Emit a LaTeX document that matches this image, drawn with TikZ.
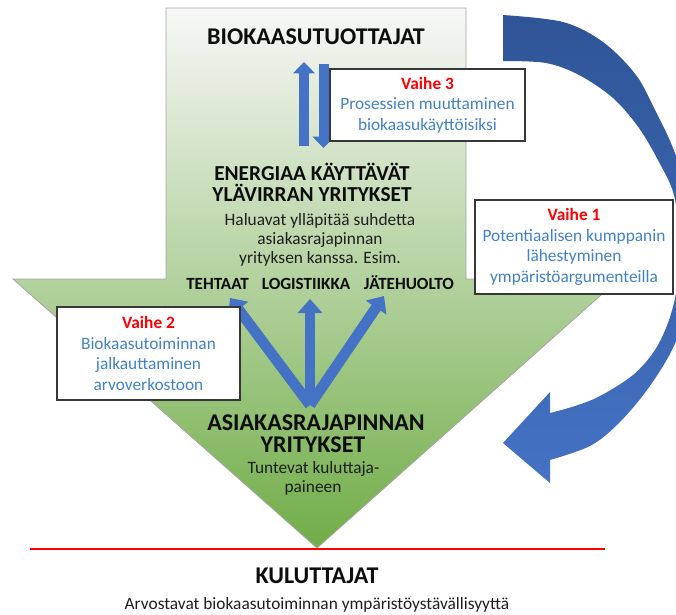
\documentclass[tikz,border=0pt]{standalone}
\usepackage{fontspec}
\setmainfont{Carlito}
\usetikzlibrary{arrows.meta}

\definecolor{flowblue}{RGB}{68,114,196}
\definecolor{deepblue}{RGB}{47,85,151}
\definecolor{midblue}{RGB}{55,96,170}
\definecolor{stepred}{RGB}{255,0,0}
\definecolor{steptext}{RGB}{66,130,198}
\definecolor{leafgreen}{RGB}{112,173,71}
\definecolor{palegreen}{RGB}{213,232,204}
\definecolor{paper}{RGB}{247,247,247}
\definecolor{rim}{RGB}{166,166,166}
\definecolor{boxline}{RGB}{55,55,55}
\definecolor{ink}{RGB}{13,13,13}
\definecolor{softink}{RGB}{30,30,30}

\begin{document}
\begin{tikzpicture}[x=0.75pt,y=-0.75pt,
  heading/.style={font=\fontsize{18}{21}\selectfont\bfseries, text=ink, inner sep=0pt, anchor=base},
  subheading/.style={font=\fontsize{16}{19}\selectfont\bfseries, text=ink, inner sep=0pt, anchor=base},
  body/.style={font=\fontsize{13}{15.5}\selectfont, text=softink, inner sep=0pt, anchor=base},
  sector/.style={font=\fontsize{12.8}{15}\selectfont\bfseries, text=ink, inner sep=0pt, anchor=base},
  phasebox/.style={draw=boxline, line width=0.9pt, fill=white, align=center,
    font=\fontsize{13}{15.5}\selectfont, text=steptext, inner sep=0pt},
  linkarrow/.style={draw=flowblue, line width=7.5pt, -{Triangle[width=16pt,length=8.5pt]}},
  fanarrow/.style={draw=flowblue, line width=8pt, -{Triangle[width=18pt,length=10.5pt]}},
]
\useasboundingbox (0,0) rectangle (676,615);

% value chain: wide stem with a downward head
\shade[top color=paper, middle color=palegreen, bottom color=leafgreen]
  (166,8) -- (466,8) -- (466,279) -- (619,279) -- (317,548) -- (13,279) -- (166,279) -- cycle;
\draw[rim, line width=0.6pt]
  (166,8) -- (466,8) -- (466,279) -- (619,279) -- (317,548) -- (13,279) -- (166,279) -- cycle;

% curved arrow of the approach cycle
\begin{scope}
\clip (0,0) rectangle (676,615);
\shade[top color=deepblue, middle color=midblue, bottom color=flowblue]
  (503,15) -- plot[smooth, tension=0.55] coordinates {(503,15) (563,22) (603,42) (636,75) (656,112) (673,148) (686,190) (692,250) (686,310) (672,350) (647,390) (618,424) (590,446) (550,460)}
  -- (550,483) -- (503,443) -- (550,392)
  -- plot[smooth, tension=0.55] coordinates {(550,413) (575,406) (600,396) (633,375) (655,350) (669,320) (677,287) (680,243) (674,195) (659,162) (639,128) (613,98) (579,75) (546,63) (503,61)}
  -- cycle;
\end{scope}

% consumer boundary
\coordinate (lineW) at (30,549);
\coordinate (lineE) at (605,549);
\draw[stepred, line width=1.7pt] (lineW) -- (lineE);

% producers
\node[heading] (producers) at (316,44) {BIOKAASUTUOTTAJAT};

% two-way link between producers and upstream firms
\coordinate (upFoot) at (304,146);
\coordinate (upHead) at (304,62);
\coordinate (downFoot) at (323.5,64);
\coordinate (downHead) at (323.5,148);
\draw[linkarrow] (upFoot) -- (upHead);
\draw[linkarrow] (downFoot) -- (downHead);

% upstream firms
\node[subheading] (upstreamA) at (312,180) {ENERGIAA KÄYTTÄVÄT};
\node[subheading] (upstreamB) at (312,201) {YLÄVIRRAN YRITYKSET};
\node[body] (wishA) at (320,225) {Haluavat ylläpitää suhdetta};
\node[body] (wishB) at (320,244) {asiakasrajapinnan};
\node[body] (wishC) at (320,263) {yrityksen kanssa. Esim.};

\node[sector] (factories) at (217.5,289) {TEHTAAT};
\node[sector] (logistics) at (306,289) {LOGISTIIKKA};
\node[sector] (waste) at (409,289) {JÄTEHUOLTO};

% fan of arrows from the customer-facing firms
\coordinate (fanBase) at (310,405);
\coordinate (fanLeft) at (230,298);
\coordinate (fanMid) at (310,299);
\coordinate (fanRight) at (384,296);
\draw[fanarrow] (fanBase) -- (fanLeft);
\draw[fanarrow] (fanBase) -- (fanRight);
\draw[fanarrow] (fanBase) -- (fanMid);

% customer-facing firms
\node[heading] (frontA) at (316,430) {ASIAKASRAJAPINNAN};
\node[heading] (frontB) at (313,452) {YRITYKSET};
\node[body] (pressureA) at (313.5,473) {Tuntevat kuluttaja-};
\node[body] (pressureB) at (313,492) {paineen};

% consumers
\node[heading] (consumers) at (317,583) {KULUTTAJAT};
\node[body] (valueText) at (317,609) {Arvostavat biokaasutoiminnan ympäristöystävällisyyttä};

% phases
\node[phasebox, minimum width=146.25pt, minimum height=54pt] (phase3) at (427.5,105)
  {{\color{stepred}\bfseries Vaihe 3}\\Prosessien muuttaminen\\biokaasukäyttöisiksi};
\node[phasebox, minimum width=148.5pt, minimum height=70.5pt] (phase1) at (574,247)
  {{\color{stepred}\bfseries Vaihe 1}\\Potentiaalisen kumppanin\\lähestyminen\\ympäristöargumenteilla};
\node[phasebox, minimum width=137.25pt, minimum height=69.75pt] (phase2) at (148.5,353.5)
  {{\color{stepred}\bfseries Vaihe 2}\\Biokaasutoiminnan\\jalkauttaminen\\arvoverkostoon};
\end{tikzpicture}
\end{document}
